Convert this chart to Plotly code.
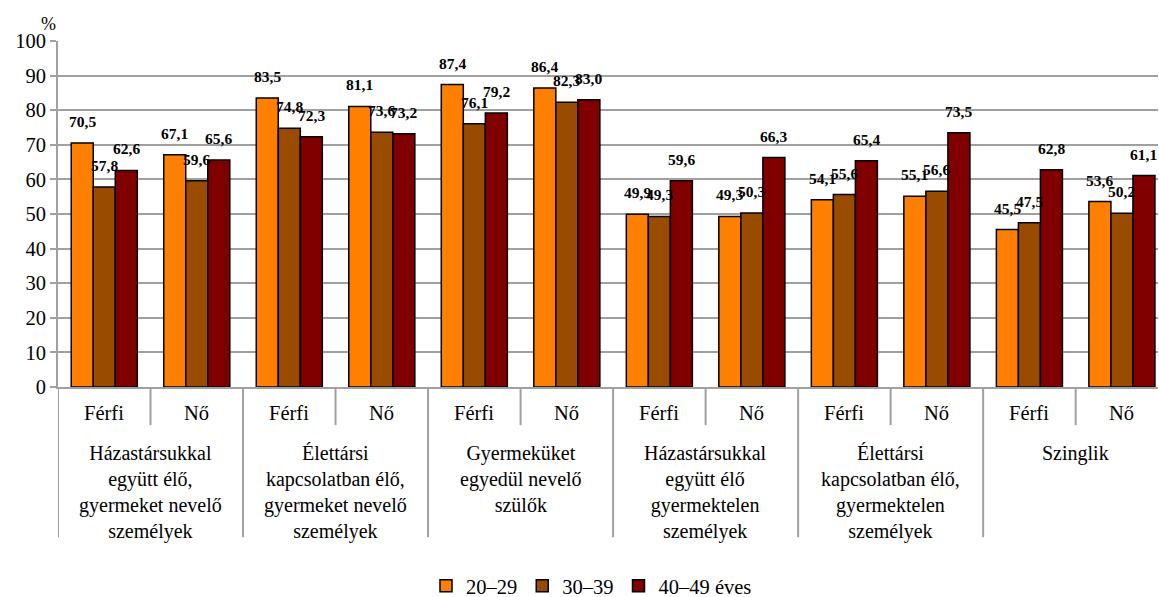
import plotly.graph_objects as go

categories = [
    "Házastársukkal<br>együtt élő,<br>gyermeket nevelő<br>személyek",
    "Élettársi<br>kapcsolatban élő,<br>gyermeket nevelő<br>személyek",
    "Gyermeküket<br>egyedül nevelő<br>szülők",
    "Házastársukkal<br>együtt élő<br>gyermektelen<br>személyek",
    "Élettársi<br>kapcsolatban élő,<br>gyermektelen<br>személyek",
    "Szinglik",
]
genders = ["Férfi", "Nő"]
series_names = ["20–29", "30–39", "40–49 éves"]
s20 = [70.5, 67.1, 83.5, 81.1, 87.4, 86.4, 49.9, 49.3, 54.1, 55.1, 45.5, 53.6]
s30 = [57.8, 59.6, 74.8, 73.6, 76.1, 82.3, 49.3, 50.3, 55.6, 56.6, 47.5, 50.2]
s40 = [62.6, 65.6, 72.3, 73.2, 79.2, 83.0, 59.6, 66.3, 65.4, 73.5, 62.8, 61.1]
y_ticks = [0, 10, 20, 30, 40, 50, 60, 70, 80, 90, 100]

colors = ["#FF8000", "#994C00", "#800000"]
FONT = "Liberation Serif"
GRID = "#A0A0A0"
BARGAP = 0.286

n_slots = len(categories) * len(genders)
xs = list(range(n_slots))
all_series = [s20, s30, s40]

fig = go.Figure()
for name, vals, col in zip(series_names, all_series, colors):
    fig.add_trace(go.Bar(
        x=xs, y=vals, name=name,
        marker=dict(color=col, line=dict(color="black", width=1.5)),
        hoverinfo="skip",
    ))

annotations = []
w = (1 - BARGAP) / 3
for k, vals in enumerate(all_series):
    for i, v in enumerate(vals):
        annotations.append(dict(
            x=i + (k - 1) * w, y=v, xref="x", yref="y",
            text="<b>" + f"{v:.1f}".replace(".", ",") + "</b>",
            showarrow=False, yanchor="bottom", xanchor="center", yshift=11,
            font=dict(family=FONT, size=15.5, color="black"),
        ))

# gender labels
for i in xs:
    annotations.append(dict(
        x=i, y=-0.075, xref="x", yref="paper", text=genders[i % 2],
        showarrow=False, yanchor="middle", xanchor="center",
        font=dict(family=FONT, size=20.5, color="black"),
    ))
# category labels
for g, cat in enumerate(categories):
    annotations.append(dict(
        x=2 * g + 0.5, y=-0.153, xref="x", yref="paper", text=cat,
        showarrow=False, yanchor="top", xanchor="center",
        font=dict(family=FONT, size=20, color="black"),
    ))
# % label
annotations.append(dict(
    x=-0.009, y=1.05, xref="paper", yref="paper", text="%",
    showarrow=False, xanchor="center", yanchor="middle",
    font=dict(family=FONT, size=18, color="black"),
))

shapes = []
for b in range(n_slots + 1):
    y1 = -0.434 if b % 2 == 0 else -0.11
    shapes.append(dict(
        type="line", xref="x", yref="paper", x0=b - 0.5, x1=b - 0.5,
        y0=0, y1=y1, line=dict(color=GRID, width=2),
    ))

fig.update_layout(
    width=1159, height=597,
    margin=dict(l=58, r=1, t=41, b=210, autoexpand=False),
    paper_bgcolor="white", plot_bgcolor="white",
    barmode="group", bargap=BARGAP, bargroupgap=0,
    font=dict(family=FONT, size=20, color="black"),
    xaxis=dict(
        range=[-0.5, 11.39], showticklabels=False, ticks="",
        showgrid=False, zeroline=False, automargin=False,
        showline=True, linecolor=GRID, linewidth=2,
    ),
    yaxis=dict(
        range=[0, 100], tickvals=y_ticks, showgrid=True, gridcolor=GRID,
        gridwidth=1.5, zeroline=False, showline=True, linecolor=GRID,
        linewidth=2, ticks="outside", ticklen=6, tickcolor=GRID, tickwidth=1.5,
        automargin=False,
        tickfont=dict(family=FONT, size=20.5, color="black"),
    ),
    showlegend=True,
    legend=dict(
        orientation="h", x=0.485, xanchor="center", y=-0.575, yanchor="middle",
        font=dict(family=FONT, size=20.5, color="black"), itemwidth=30,
        traceorder="normal",
    ),
    annotations=annotations,
    shapes=shapes,
)

fig.write_html(
    "out.html",
    config={"displayModeBar": False},
    post_script="document.body.style.margin='0';document.body.style.padding='0';",
)
